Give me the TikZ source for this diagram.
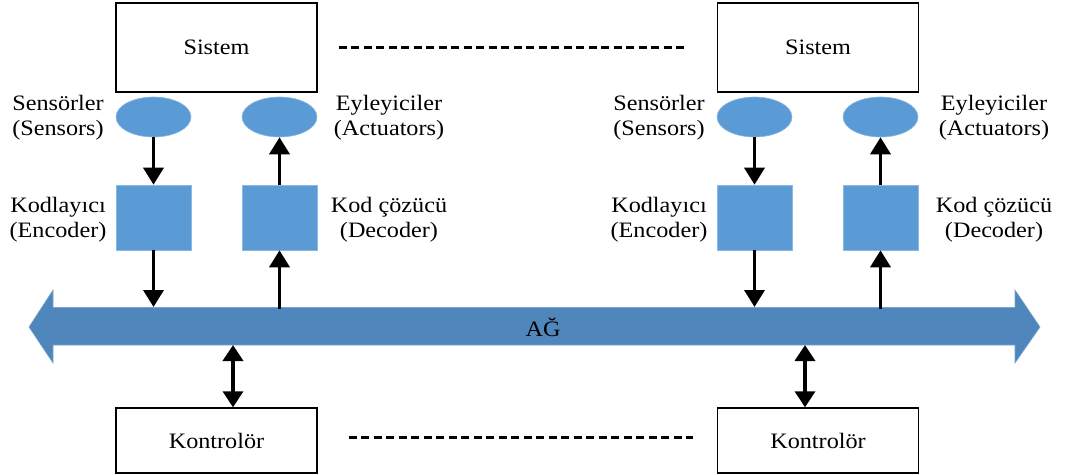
\documentclass[tikz,border=0pt]{standalone}
\usepackage{fontspec}
\setmainfont{Liberation Serif}[FakeStretch=1.1]
\usetikzlibrary{shapes.geometric,arrows.meta}
\definecolor{shapeblue}{RGB}{91,155,213}
\definecolor{busblue}{RGB}{79,134,187}
\definecolor{busedge}{RGB}{120,165,208}
\begin{document}
\begin{tikzpicture}[x=1pt,y=-1pt,
  every node/.style={font=\fontsize{22}{25}\selectfont, inner sep=0pt},
  whitebox/.style={draw=black, line width=1.4pt, fill=white, minimum width=201pt, minimum height=89pt},
  ctrlbox/.style={draw=black, line width=1.4pt, fill=white, minimum width=201pt, minimum height=65pt},
  blueoval/.style={ellipse, fill=shapeblue, draw=shapeblue!70!white, line width=0.6pt, minimum width=75pt, minimum height=40pt},
  bluesquare/.style={rectangle, fill=shapeblue, draw=shapeblue!70!white, line width=0.6pt, minimum width=75pt, minimum height=65pt},
  lbl/.style={align=center},
  flow/.style={line width=3.6pt, -{Triangle[width=20pt,length=17pt]}},
  both/.style={line width=3.6pt, {Triangle[width=20pt,length=16pt]}-{Triangle[width=20pt,length=16pt]}},
  dots/.style={line width=3pt, dash pattern=on 8pt off 4.5pt}
]
\useasboundingbox (0,0) rectangle (1078,474);

% network bus (double-headed block arrow)
\fill[busblue, draw=busedge, line width=0.6pt]
  (29,327) -- (53,290) -- (53,307.5) -- (1015,307.5) -- (1015,290) -- (1040,327)
  -- (1015,363) -- (1015,345) -- (53,345) -- (53,363) -- cycle;
\node (net) at (543,327) {AĞ};

% bus attachment points
\coordinate (busEncL) at (153.5,307);
\coordinate (busDecL) at (279.5,309);
\coordinate (busEncR) at (754.5,307);
\coordinate (busDecR) at (880.5,309);
\coordinate (busCtlLt) at (233,345);
\coordinate (busCtlRt) at (805,345);

% left plant
\node[whitebox] (sysL) at (216.5,47.5) {Sistem};
\node[blueoval] (senL) at (153.5,117) {};
\node[blueoval] (actL) at (279.5,117) {};
\node[bluesquare] (encL) at (153.5,217.5) {};
\node[bluesquare] (decL) at (279.5,217.5) {};
\node[lbl] (senLt) at (58,118) {Sensörler\\(Sensors)};
\node[lbl] (actLt) at (389,118) {Eyleyiciler\\(Actuators)};
\node[lbl] (encLt) at (58,220) {Kodlayıcı\\(Encoder)};
\node[lbl] (decLt) at (389,220) {Kod çözücü\\(Decoder)};

% right plant
\node[whitebox] (sysR) at (818,47.5) {Sistem};
\node[blueoval] (senR) at (754.5,117) {};
\node[blueoval] (actR) at (880.5,117) {};
\node[bluesquare] (encR) at (754.5,217.5) {};
\node[bluesquare] (decR) at (880.5,217.5) {};
\node[lbl] (senRt) at (659,118) {Sensörler\\(Sensors)};
\node[lbl] (actRt) at (994,118) {Eyleyiciler\\(Actuators)};
\node[lbl] (encRt) at (659,220) {Kodlayıcı\\(Encoder)};
\node[lbl] (decRt) at (994,220) {Kod çözücü\\(Decoder)};

% controllers
\node[ctrlbox] (ctlL) at (216.5,440.5) {Kontrolör};
\node[ctrlbox] (ctlR) at (818,440.5) {Kontrolör};

% signal flow
\draw[flow] (senL.south) -- (encL.north);
\draw[flow] (decL.north) -- (actL.south);
\draw[flow] (encL.south) -- (busEncL);
\draw[flow] (busDecL) -- (decL.south);
\draw[flow] (senR.south) -- (encR.north);
\draw[flow] (decR.north) -- (actR.south);
\draw[flow] (encR.south) -- (busEncR);
\draw[flow] (busDecR) -- (decR.south);
\draw[both] (busCtlLt) -- (ctlL.north -| busCtlLt);
\draw[both] (busCtlRt) -- (ctlR.north -| busCtlRt);

% continuation marks between the plants and between the controllers
\draw[dots] ([xshift=21pt]sysL.east) -- ([xshift=-33pt]sysR.west);
\draw[dots] ([xshift=31pt,yshift=3.5pt]ctlL.east) -- ([xshift=-24pt,yshift=3.5pt]ctlR.west);
\end{tikzpicture}
\end{document}
